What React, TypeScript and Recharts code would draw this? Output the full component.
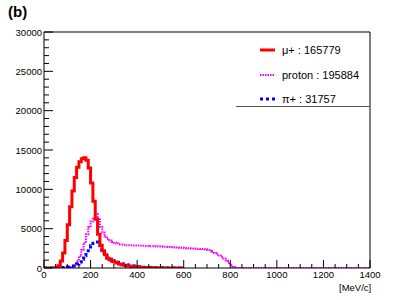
import { LineChart, Line, XAxis, YAxis, ReferenceLine } from "recharts";

const BIN = 10;

// counts per 10 MeV/c bin, starting at 0
const muValues = [
  0, 0, 0, 0, 0, 50, 300, 900, 1900, 3500,
  5500, 7800, 9800, 11500, 12800, 13500, 13900, 14000, 13700, 12700,
  10800, 8500, 6200, 4300, 2900, 2200, 1700, 1250, 1050, 850,
  750, 620, 500, 420, 340, 290, 240, 200, 160, 130,
  110, 90, 70, 60, 50, 40, 30, 25, 20, 15,
  12, 10, 8, 6, 5, 4, 3, 2, 2, 1,
];

const protonValues = [
  0, 0, 0, 0, 0, 0, 0, 0, 0, 0,
  30, 100, 250, 500, 900, 1500, 2300, 3200, 4300, 5200,
  5900, 6400, 6900, 6300, 5200, 4500, 4000, 3700, 3500, 3300,
  3200, 3100, 3000, 3000, 2950, 2900, 2900, 2880, 2870, 2860,
  2850, 2840, 2820, 2800, 2800, 2780, 2780, 2760, 2740, 2730,
  2720, 2700, 2700, 2680, 2660, 2640, 2620, 2600, 2580, 2560,
  2530, 2520, 2500, 2490, 2480, 2460, 2430, 2420, 2400, 2370,
  2300, 2200, 2050, 1900, 1750, 1600, 1400, 1200, 950, 650,
  350, 100, 20, 0, 0, 0, 0, 0, 0, 0,
  0, 0, 0, 0, 0, 0, 0, 0, 0, 0,
  0, 0, 0, 0, 0, 0, 0, 0, 0, 0,
  0, 0, 0, 0, 0, 0, 0, 0, 0, 0,
  0, 0, 0, 0, 0, 0, 0, 0, 0, 0,
  0, 0, 0, 0, 0, 0, 0, 0, 0, 0,
];

const piValues = [
  0, 0, 0, 0, 0, 10, 20, 40, 60, 90,
  130, 180, 260, 380, 500, 750, 1100, 1550, 2000, 2450,
  2850, 3150, 3300, 2900, 2300, 1850, 1550, 1300, 1100, 950,
  820, 720, 620, 540, 470, 410, 350, 300, 250, 210,
  170, 140, 110, 90, 70, 55, 45, 35, 28, 22,
  17, 13, 10, 8, 6, 5, 4, 3, 2, 1,
];

const xMajorTicks = [0, 200, 400, 600, 800, 1000, 1200, 1400];
const yMajorTicks = [0, 5000, 10000, 15000, 20000, 25000, 30000];

const legendItems = [
  { label: "μ+ : 165779", color: "#ff0000", width: 3, dash: undefined },
  { label: "proton : 195884", color: "#ff00ff", width: 2, dash: "1.5 1" },
  { label: "π+ : 31757", color: "#0000ff", width: 3, dash: "3 3" },
];

const xTicks: number[] = [];
for (let v = 0; v <= 1400; v += 50) xTicks.push(v);
const yTicks: number[] = [];
for (let v = 0; v <= 30000; v += 1000) yTicks.push(v);

const toSteps = (values: number[]) => {
  const pts = values.map((v, i) => ({ x: i * BIN, y: v }));
  pts.push({ x: values.length * BIN, y: values[values.length - 1] });
  return pts;
};

const font = "'Liberation Sans', Arial, sans-serif";

const XTick = (props: any) => {
  const { x, y, payload } = props;
  const major = xMajorTicks.includes(payload.value);
  return (
    <g>
      <line x1={x} x2={x} y1={y} y2={y - (major ? 8 : 4)} stroke="#000" />
      {major && (
        <text x={x} y={y + 10} textAnchor="middle" fontSize={9.5} fontFamily={font} fill="#000">
          {payload.value}
        </text>
      )}
    </g>
  );
};

const YTick = (props: any) => {
  const { x, y, payload } = props;
  const major = yMajorTicks.includes(payload.value);
  return (
    <g>
      <line x1={x} x2={x + (major ? 9 : 5)} y1={y} y2={y} stroke="#000" />
      {major && (
        <text x={x - 2} y={y + 3.5} textAnchor="end" fontSize={9.5} fontFamily={font} fill="#000">
          {payload.value}
        </text>
      )}
    </g>
  );
};

export default function App() {
  return (
    <div style={{ position: "absolute", left: 0, top: 0, width: 415, height: 300, background: "#fff", fontFamily: font }}>
      <LineChart width={415} height={300} margin={{ top: 32, right: 45, bottom: 0, left: 0 }}>
        <XAxis
          type="number"
          dataKey="x"
          domain={[0, 1400]}
          ticks={xTicks}
          interval={0}
          height={32}
          tickSize={0}
          tickMargin={0}
          tickLine={false}
          stroke="#000"
          tick={<XTick />}
          allowDataOverflow
        />
        <YAxis
          type="number"
          domain={[0, 30000]}
          ticks={yTicks}
          interval={0}
          width={44}
          tickSize={0}
          tickMargin={0}
          tickLine={false}
          stroke="#000"
          tick={<YTick />}
          allowDataOverflow
        />
        <ReferenceLine y={30000} stroke="#000" />
        <ReferenceLine x={1400} stroke="#000" />
        <Line
          data={toSteps(protonValues)}
          dataKey="y"
          type="stepAfter"
          stroke="#ff00ff"
          strokeWidth={2}
          strokeDasharray="1.5 1"
          dot={false}
          isAnimationActive={false}
        />
        <Line
          data={toSteps(piValues)}
          dataKey="y"
          type="stepAfter"
          stroke="#0000ff"
          strokeWidth={3}
          strokeDasharray="3 3"
          dot={false}
          isAnimationActive={false}
        />
        <Line
          data={toSteps(muValues)}
          dataKey="y"
          type="stepAfter"
          stroke="#ff0000"
          strokeWidth={3}
          dot={false}
          isAnimationActive={false}
        />
      </LineChart>

      <div style={{ position: "absolute", left: 8, top: 3, fontSize: 15, fontWeight: "bold" }}>(b)</div>
      <div style={{ position: "absolute", left: 339, top: 282, fontSize: 9.5 }}>[MeV/c]</div>

      <div
        style={{
          position: "absolute",
          left: 236,
          top: 32,
          width: 134,
          height: 75,
          boxSizing: "border-box",
          borderBottom: "1px solid #555",
        }}
      >
        {legendItems.map((it, i) => (
          <div key={it.label} style={{ position: "absolute", left: 23, top: 11 + i * 24.5, height: 14, display: "flex", alignItems: "center" }}>
            <svg width={18} height={14}>
              <line x1={1} x2={16} y1={7} y2={7} stroke={it.color} strokeWidth={it.width} strokeDasharray={it.dash} />
            </svg>
            <span style={{ marginLeft: 5, fontSize: 11, whiteSpace: "nowrap" }}>{it.label}</span>
          </div>
        ))}
      </div>
    </div>
  );
}
